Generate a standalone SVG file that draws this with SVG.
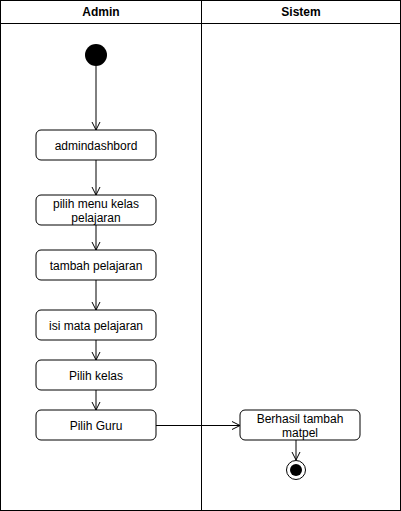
<svg xmlns="http://www.w3.org/2000/svg" width="401" height="511" viewBox="0 0 401 511">
<style>
.lane{fill:none;stroke:#000;stroke-width:1}
.hd{font-family:"Liberation Sans",Arial,sans-serif;font-size:12px;font-weight:bold;text-anchor:middle;fill:#000}
.act{fill:#fff;stroke:#000;stroke-width:1}
.t{font-family:"Liberation Sans",Arial,sans-serif;font-size:12px;text-anchor:middle;fill:#000}
.c{fill:none;stroke:#000;stroke-width:1}
</style>
<defs>
<marker id="ah" markerWidth="10" markerHeight="10" refX="9" refY="5" orient="auto" markerUnits="userSpaceOnUse">
<path d="M1,1 L9,5 L1,9" fill="none" stroke="#000" stroke-width="1"/>
</marker>
</defs>
<rect width="401" height="511" fill="#fff"/>
<g id="lanes">
<rect class="lane" x="0.5" y="0.5" width="400" height="510"/>
<line class="lane" x1="0.5" y1="23.5" x2="400.5" y2="23.5"/>
<line class="lane" x1="201.5" y1="0.5" x2="201.5" y2="510.5"/>
<text class="hd" x="101" y="16">Admin</text>
<text class="hd" x="301" y="16">Sistem</text>
</g>
<g id="connectors">
<line class="c" x1="96" y1="66" x2="96" y2="130" marker-end="url(#ah)"/>
<line class="c" x1="96" y1="160" x2="96" y2="195" marker-end="url(#ah)"/>
<line class="c" x1="96" y1="225" x2="96" y2="250" marker-end="url(#ah)"/>
<line class="c" x1="96" y1="280" x2="96" y2="310" marker-end="url(#ah)"/>
<line class="c" x1="96" y1="340" x2="96" y2="360" marker-end="url(#ah)"/>
<line class="c" x1="96" y1="390" x2="96" y2="410" marker-end="url(#ah)"/>
<line class="c" x1="156" y1="425.5" x2="240" y2="425.5" marker-end="url(#ah)"/>
<line class="c" x1="296" y1="440" x2="296" y2="460" marker-end="url(#ah)"/>
</g>
<g id="start"><circle cx="96" cy="55" r="11" fill="#000"/></g>
<g id="n1"><rect class="act" x="36" y="130" width="120" height="30" rx="5"/><text class="t" x="96" y="149.5">admindashbord</text></g>
<g id="n2"><rect class="act" x="36" y="195" width="120" height="30" rx="5"/><text class="t" x="96" y="207.5">pilih menu kelas</text><text class="t" x="96" y="221.5">pelajaran</text></g>
<g id="n3"><rect class="act" x="36" y="250" width="120" height="30" rx="5"/><text class="t" x="96" y="269.5">tambah pelajaran</text></g>
<g id="n4"><rect class="act" x="36" y="310" width="120" height="30" rx="5"/><text class="t" x="96" y="329.5">isi mata pelajaran</text></g>
<g id="n5"><rect class="act" x="36" y="360" width="120" height="30" rx="5"/><text class="t" x="96" y="379.5">Pilih kelas</text></g>
<g id="n6"><rect class="act" x="36" y="410" width="120" height="30" rx="5"/><text class="t" x="96" y="429.5">Pilih Guru</text></g>
<g id="n7"><rect class="act" x="240" y="410" width="120" height="30" rx="5"/><text class="t" x="300" y="422.5">Berhasil tambah</text><text class="t" x="300" y="436.5">matpel</text></g>
<g id="end"><circle cx="296" cy="470" r="9.5" fill="#fff" stroke="#000" stroke-width="1"/><circle cx="296" cy="470" r="6" fill="#000"/></g>
</svg>
